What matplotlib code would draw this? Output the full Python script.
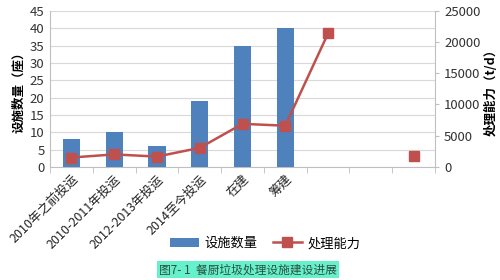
import matplotlib
matplotlib.use("Agg")
import matplotlib.pyplot as plt
import numpy as np

plt.rcParams['font.family'] = ['Noto Sans CJK SC', 'DejaVu Sans']

categories = ['2010年之前投运', '2010-2011年投运', '2012-2013年投运', '2014至今投运', '在建', '筹建', '', '', '']
facility_count = [8, 10, 6, 19, 35, 40, np.nan, np.nan, np.nan]
capacity = [1500, 2000, 1650, 3050, 6900, 6600, 21400, np.nan, 1800]

fig = plt.figure(figsize=(5, 2.8), dpi=100)
ax = fig.add_axes([0.1, 0.404, 0.77, 0.557])
x = np.arange(len(categories))

ax.bar(x, facility_count, width=0.4, color='#4F81BD', label='设施数量', zorder=3)
ax.set_ylim(0, 45)
ax.set_yticks(np.arange(0, 46, 5))
ax.set_xlim(-0.5, len(categories) - 0.5)
ax.yaxis.grid(True, color='#D9D9D9', linewidth=0.8, zorder=0)
ax.set_axisbelow(True)
ax.set_xticks(x)
ax.set_xticklabels(categories, rotation=45, ha='right', rotation_mode='anchor', fontsize=9, color='#222222')
ax.set_xticks(np.arange(-0.5, len(categories), 1), minor=True)
ax.tick_params(axis='x', which='major', length=0, pad=4)
ax.tick_params(axis='x', which='minor', length=4, color='#BFBFBF')
ax.tick_params(axis='y', length=0, labelsize=9.5, colors='#333333', pad=4)
for s in ['top', 'right']:
    ax.spines[s].set_visible(False)
ax.spines['left'].set_color('#BFBFBF')
ax.spines['bottom'].set_color('#BFBFBF')
ax.set_ylabel('设施数量（座）', fontsize=9, fontweight='bold', labelpad=3)

ax2 = ax.twinx()
ax2.plot(x, capacity, color='#C0504D', marker='s', markersize=6.5, linewidth=1.8, label='处理能力', zorder=4)
ax2.set_ylim(0, 25000)
ax2.set_yticks(np.arange(0, 25001, 5000))
ax2.tick_params(axis='y', length=3, color='#BFBFBF', labelsize=9.5, labelcolor='#333333')
for s in ['top', 'left', 'bottom']:
    ax2.spines[s].set_visible(False)
ax2.spines['right'].set_color('#BFBFBF')
ax2.set_ylabel('处理能力（t/d）', fontsize=9, fontweight='bold', labelpad=3)

h1, l1 = ax.get_legend_handles_labels()
h2, l2 = ax2.get_legend_handles_labels()
fig.legend(h1 + h2, l1 + l2, loc='center', bbox_to_anchor=(0.53, 0.13), ncol=2,
           frameon=False, fontsize=9.5, handlelength=2.2, columnspacing=1.2, handletextpad=0.4)

fig.text(0.496, 0.037, '图7- 1  餐厨垃圾处理设施建设进展', ha='center', va='center', fontsize=8.5,
         color='#2F4F3F', bbox=dict(boxstyle='square,pad=0.15', facecolor='#66F0CC', edgecolor='none'))

fig.savefig('out.png', dpi=100)
